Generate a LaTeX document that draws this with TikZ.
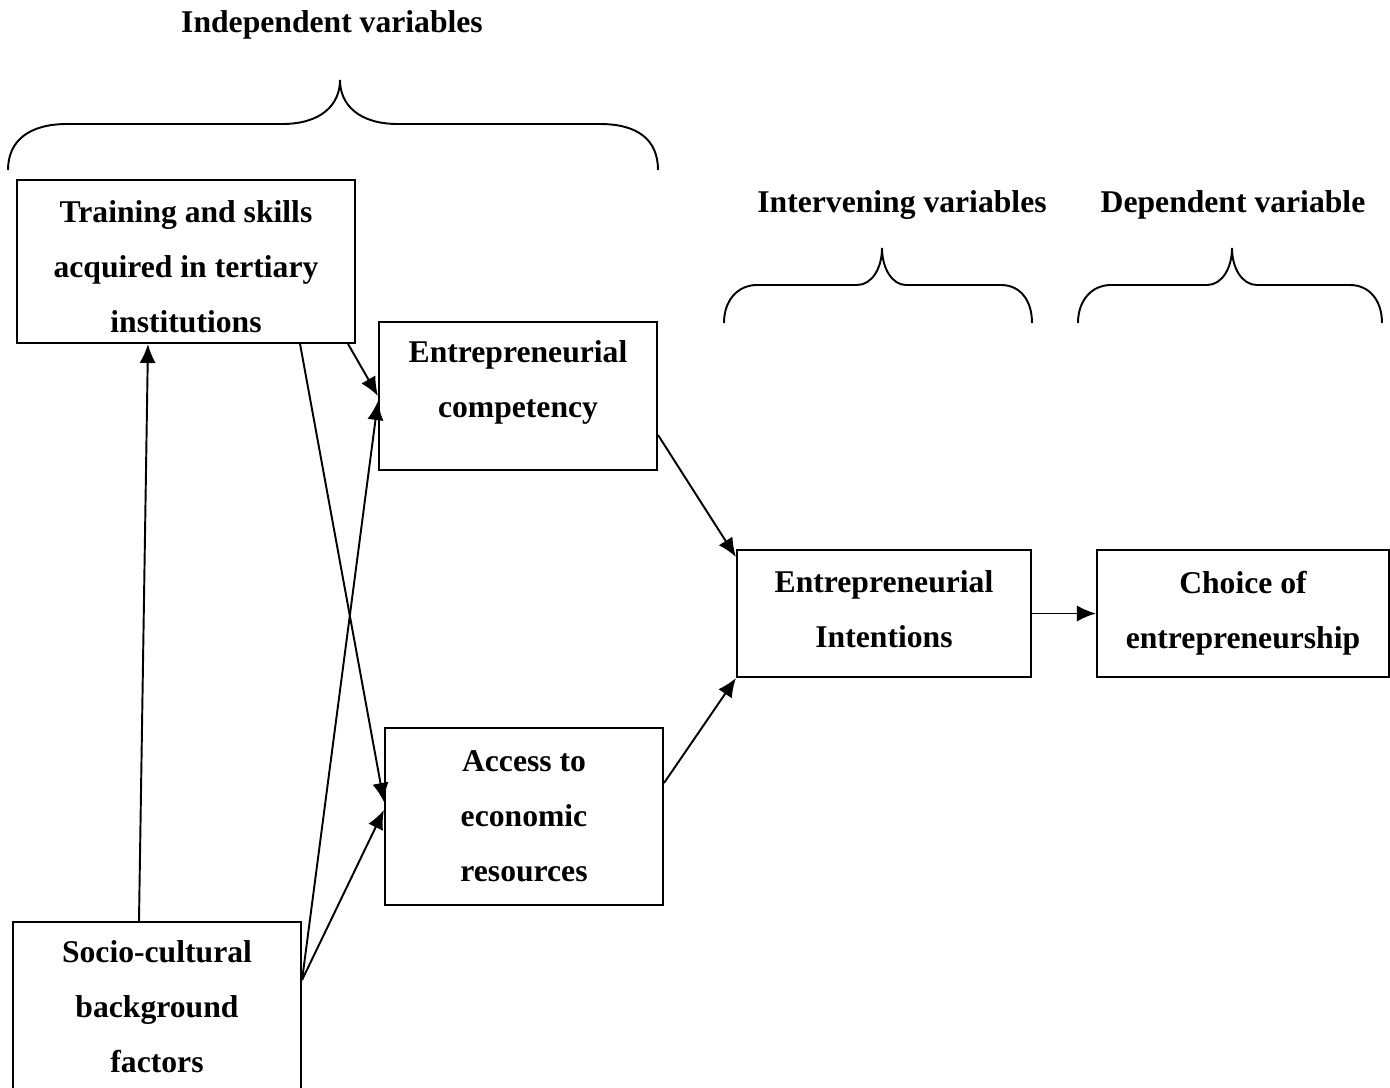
\documentclass[tikz,border=0pt]{standalone}
\usepackage{fontspec}
\setmainfont{Liberation Serif}
\usetikzlibrary{arrows.meta}

\begin{document}
\begin{tikzpicture}[x=0.01cm,y=-0.01cm]
		\useasboundingbox (0,0) rectangle (1390,1087);
		
		\tikzset{box/.style = {shape=rectangle,draw,line width=0.55pt,align=center,inner sep=0pt,font=\fontsize{9}{15.65}\selectfont\bfseries}}
		\tikzset{heading/.style = {anchor=base,inner sep=0pt,font=\fontsize{9}{15.65}\selectfont\bfseries}}
		\tikzset{edge/.style = {->,> = {Latex[length=5.4pt,width=4.6pt]},line width=0.55pt}}
		\tikzset{brace/.style = {line width=0.55pt}}
		% headings
		\node[heading] (indep) at (332,32) {Independent variables};
		\node[heading] (interv) at (902,212) {Intervening variables};
		\node[heading] (dep) at (1233,212) {Dependent variable};
		% braces
		\draw[brace] (8,170) .. controls (8,140) and (30,124) .. (67,124) -- (282,124)
			.. controls (322,124) and (340,104) .. (340,80) .. controls (340,104) and (358,124) .. (398,124)
			-- (600,124) .. controls (638,124) and (658,140) .. (658,170);
		\draw[brace] (724,323) .. controls (724,300) and (738,285) .. (757,285) -- (857,285)
			.. controls (872,285) and (882,268) .. (882,248) .. controls (882,268) and (892,285) .. (906,285)
			-- (1001,285) .. controls (1020,285) and (1032,300) .. (1032,323);
		\draw[brace] (1078,323) .. controls (1078,300) and (1092,285) .. (1111,285) -- (1207,285)
			.. controls (1222,285) and (1232,268) .. (1232,248) .. controls (1232,268) and (1242,285) .. (1257,285)
			-- (1350,285) .. controls (1369,285) and (1382,300) .. (1382,323);
		% vertices
		\node[box,minimum width=3.38cm,minimum height=1.63cm] (train) at (186,261.5) {\mbox{}\\[-6.5pt]Training and skills\\acquired in tertiary\\institutions};
		\node[box,minimum width=2.78cm,minimum height=1.48cm] (comp) at (518,396) {Entrepreneurial\\competency\\[-6.25pt]\mbox{}};
		\node[box,minimum width=2.78cm,minimum height=1.77cm] (access) at (524,816.5) {Access to\\economic\\resources};
		\node[box,minimum width=2.88cm,minimum height=1.69cm] (socio) at (157,1006.5) {Socio-cultural\\background\\factors};
		\node[box,minimum width=2.94cm,minimum height=1.27cm] (intent) at (884,613.5) {Entrepreneurial\\Intentions\\[-13pt]\mbox{}};
		\node[box,minimum width=2.92cm,minimum height=1.27cm] (choice) at (1243,613.5) {Choice of\\entrepreneurship};
		%edges
		\draw[edge] ([xshift=-0.18cm]socio.north) to ([xshift=-0.38cm]train.south);
		\draw[edge] ([xshift=1.14cm]train.south) to ([yshift=0.145cm]access.west);
		\draw[edge] ([xshift=-0.08cm]train.south east) to (comp.west);
		\draw[edge] ([yshift=0.265cm]socio.east) to ([yshift=-0.05cm]comp.west);
		\draw[edge] ([yshift=0.265cm]socio.east) to ([yshift=0.065cm]access.west);
		\draw[edge] ([yshift=-0.39cm]comp.east) to ([yshift=-0.08cm]intent.north west);
		\draw[edge] ([yshift=0.335cm]access.east) to (intent.south west);
		\draw[edge] (intent.east) to (choice.west);
		\end{tikzpicture}
\end{document}
